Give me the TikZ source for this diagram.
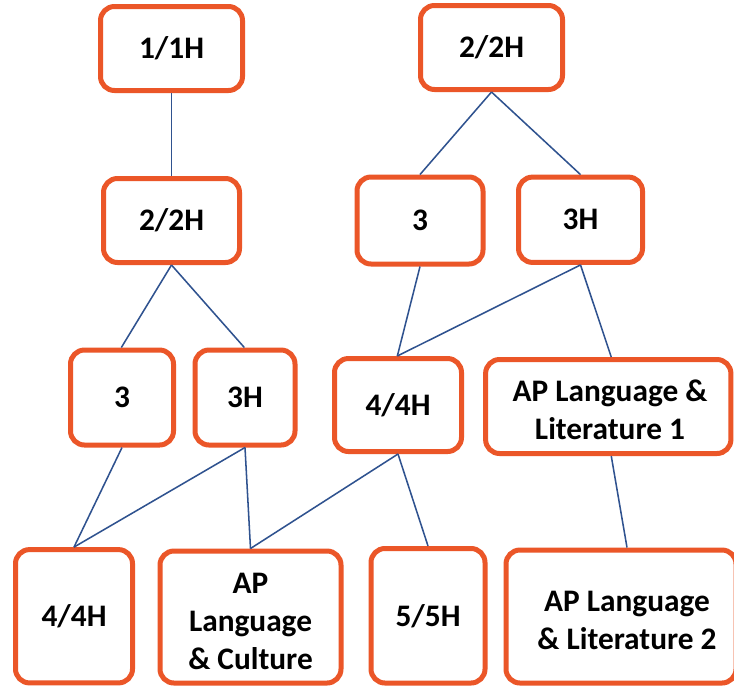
\documentclass[tikz,border=0pt]{standalone}
\usepackage{fontspec}
\setmainfont{Carlito}
\definecolor{boxorange}{RGB}{235,86,40}
\definecolor{linkblue}{RGB}{47,82,143}
\begin{document}
\begin{tikzpicture}[x=0.75pt,y=-0.75pt,
  txt/.style={align=center,inner sep=0pt,font=\fontsize{23.5pt}{28.5pt}\selectfont\bfseries},
  box/.style={draw=boxorange,line width=3.75pt,rounded corners=10.5pt,fill=white,txt},
  link/.style={draw=linkblue,line width=1.15pt}]
\useasboundingbox[fill=white] (0,0) rectangle (734,687);
% boxes
\node[box,minimum width=106.5pt,minimum height=63pt] (b11) at (171.5,48.5) {1/1H};
\node[box,minimum width=106.5pt,minimum height=63pt] (b22r) at (491.5,47.5) {2/2H};
\node[box,minimum width=102pt,minimum height=63pt] (b22l) at (171.5,220.5) {2/2H};
\node[box,minimum width=94.5pt,minimum height=65.25pt] (b3m) at (420,220.5) {3};
\node[box,minimum width=93pt,minimum height=64pt] (b3hm) at (580.5,219.75) {3H};
\node[box,minimum width=77.25pt,minimum height=71.25pt] (b3l) at (122,397.5) {3};
\node[box,minimum width=75pt,minimum height=71.25pt] (b3hl) at (245,397.5) {3H};
\node[box,minimum width=95.25pt,minimum height=69.75pt] (b44m) at (398,405) {4/4H};
\node[box,minimum width=184pt,minimum height=70.5pt] (blit1) at (608.25,406.5) {};
\node[txt] (tlit1) at (610,410) {AP Language \&\\Literature 1};
\node[box,minimum width=87.75pt,minimum height=100pt] (b44b) at (74,616.25) {4/4H};
\node[box,minimum width=135.75pt,minimum height=99pt] (bcult) at (250.5,617) {};
\node[txt] (tcult) at (250.5,621) {AP\\Language\\\& Culture};
\node[box,minimum width=85.5pt,minimum height=100.9pt] (b55) at (428,615.75) {5/5H};
\node[box,minimum width=172.5pt,minimum height=99.75pt] (blit2) at (621,616.5) {};
\node[txt] (tlit2) at (627,620.5) {AP Language\\\& Literature 2};
% connectors
\draw[link] (b11.south) -- (b22l.north);
\draw[link] (b22r.south) -- (b3m.north);
\draw[link] (b22r.south) -- (b3hm.north);
\draw[link] (b22l.south) -- ([xshift=-0.5pt]b3l.north);
\draw[link] (b22l.south) -- ([xshift=-0.5pt]b3hl.north);
\draw[link] (b3m.south) -- ([xshift=-0.5pt]b44m.north);
\draw[link] (b3hm.south) -- ([xshift=-0.5pt]b44m.north);
\draw[link] (b3hm.south) -- ([xshift=2.25pt]blit1.north);
\draw[link] (b3l.south) -- (b44b.north);
\draw[link] (b3hl.south) -- (b44b.north);
\draw[link] (b3hl.south) -- (bcult.north);
\draw[link] (b44m.south) -- (bcult.north);
\draw[link] (b44m.south) -- (b55.north);
\draw[link] ([xshift=2.25pt]blit1.south) -- ([xshift=4.5pt]blit2.north);
\end{tikzpicture}
\end{document}
